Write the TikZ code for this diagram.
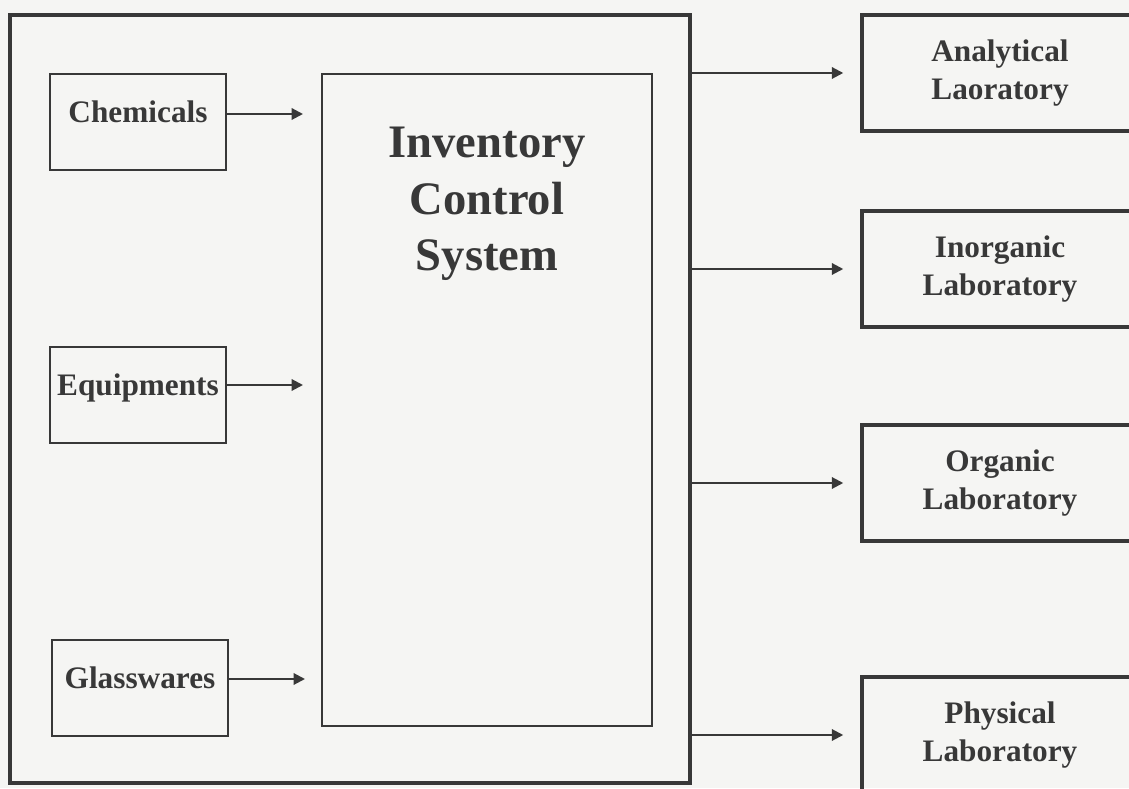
\documentclass[tikz,border=0pt]{standalone}
\usepackage{fontspec}
\setmainfont{Liberation Serif}
\usepackage{xcolor}
\usetikzlibrary{positioning, arrows.meta}
\definecolor{ink}{HTML}{383838}
\definecolor{paper}{HTML}{F5F5F3}

\begin{document}
\begin{tikzpicture}[
  src/.style={draw=ink, line width=1pt, text=ink, inner sep=0pt,
    minimum width=3.52cm, minimum height=1.92cm, text depth=0.42cm,
    font=\fontsize{17.8}{21.4}\selectfont\bfseries},
  lab/.style={draw=ink, line width=2pt, text=ink, align=center, inner sep=0pt,
    minimum width=5.52cm, minimum height=2.32cm,
    font=\fontsize{17.8}{21.4}\selectfont\bfseries},
  title/.style={text=ink, align=center,
    font=\fontsize{26.5}{32}\selectfont\bfseries},
  flow/.style={-{Triangle[length=6.5pt,width=6.5pt]}, draw=ink, line width=1.2pt}]
\clip (0,0) rectangle (22.58,15.76);
\fill[paper] (0,0) rectangle (22.58,15.76);

\node[draw=ink, line width=2.2pt, inner sep=0pt, minimum width=13.6cm,
  minimum height=15.36cm] (lims) at (7.0,7.78) {};
\node[draw=ink, line width=1pt, inner sep=0pt, minimum width=6.6cm,
  minimum height=13.04cm] (ics) at (9.74,7.76) {};
\node[title] (icstitle) at (9.74,11.68) {Inventory\\Control\\System};

\node[src] (chem) at (2.76,13.32) {Chemicals};
\node[src] (equip) at (2.76,7.86) {Equipments};
\node[src] (glass) at (2.8,2.0) {Glasswares};
\coordinate (chemin) at (6.06,13.48);
\coordinate (equipin) at (6.06,8.06);
\coordinate (glassin) at (6.1,2.18);
\draw[flow] (chem.east |- chemin) -- (chemin);
\draw[flow] (equip.east |- equipin) -- (equipin);
\draw[flow] (glass.east |- glassin) -- (glassin);

\node[lab] (ana) at (20.0,14.3) {Analytical\\Laoratory};
\node[lab] (inorg) at (20.0,10.38) {Inorganic\\Laboratory};
\node[lab] (org) at (20.0,6.1) {Organic\\Laboratory};
\node[lab] (phys) at (20.0,1.06) {Physical\\Laboratory};
\draw[flow, shorten >=0.34cm] (lims.east |- ana) -- (ana.west);
\draw[flow, shorten >=0.34cm] (lims.east |- inorg) -- (inorg.west);
\draw[flow, shorten >=0.34cm] (lims.east |- org) -- (org.west);
\draw[flow, shorten >=0.34cm] (lims.east |- phys) -- (phys.west);
\end{tikzpicture}
\end{document}
